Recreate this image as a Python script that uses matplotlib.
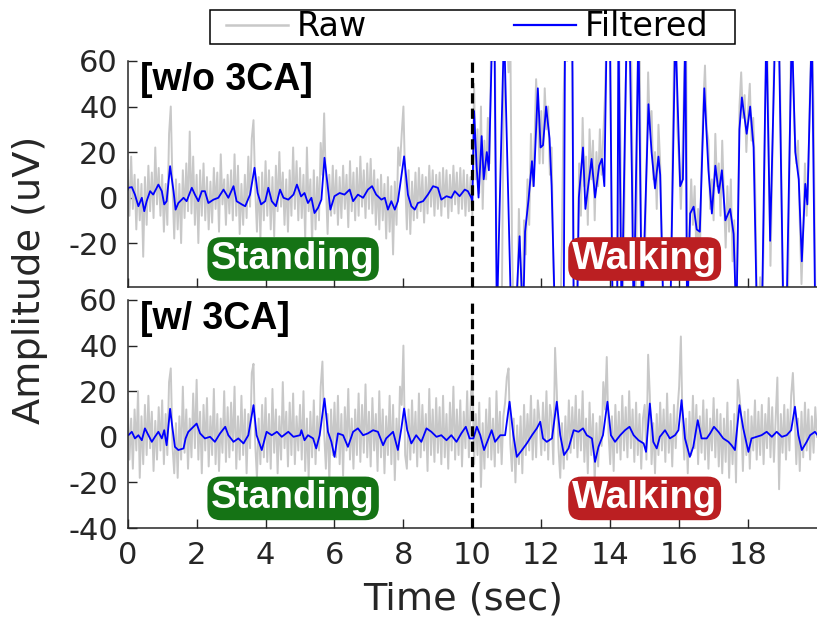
import numpy as np
import matplotlib
matplotlib.use("Agg")
import matplotlib.pyplot as plt
from matplotlib.lines import Line2D
from matplotlib.patches import Rectangle

plt.rcParams['font.family'] = ['DejaVu Sans']
plt.rcParams['axes.unicode_minus'] = False

# ---- data ----
# raw signals, one row per second, 0.05 s apart, 0..20 s
raw_top = [
    12, -8, 18, -5, 10, -14, 8, -10, 6, -26, 9, -12, 14, -6, 11, -9, 22, -3, 13, -8,
    10, -15, 6, -12, 28, 40, 5, -18, 8, -14, 6, -20, 12, -9, 15, -6, 29, -7, 18, -12,
    10, -20, 12, -8, 15, -10, 9, -14, 7, -11, 13, -5, 11, -15, 19, -3, 8, -12, 10, -7,
    12, -10, 19, -8, 14, -16, 6, -12, 10, -9, 18, -4, 26, 34, 4, -15, 9, -18, 11, -10,
    16, -8, 12, -14, 9, -17, 14, -6, 20, -4, 11, -12, 8, -15, 12, -8, 22, -5, 16, -10,
    13, -9, 10, -18, 22, -6, 8, -20, 12, -14, 9, -10, 24, 10, 37, 6, -16, 10, -8, 14,
    -7, 12, -12, 9, -9, 14, -5, 10, -13, 16, -6, 11, -10, 13, -8, 18, -4, 12, -9, 15,
    -5, 17, -7, 12, -12, 8, -14, 10, -10, 6, -18, 9, -15, 5, -25, 7, -12, 22, 14, 28,
    40, 8, -14, 12, -16, 7, -10, 11, -9, 13, -6, 10, -11, 9, -7, 14, -4, 12, -8, 10,
    -5, 11, -8, 13, -4, 12, -9, 10, -6, 14, -3, 11, -7, 13, -5, 12, -8, 10, -6, 9,
    -8, 50, 8, 30, 2, 40, -5, 25, 8, 35, 15, 75, 60, 75, -20, -55, -40, -55, 30, 75,
    75, 55, 75, -20, -55, -40, -55, -5, -30, -55, -10, -25, 8, -12, 28, 5, 22, 52, 35, 15,
    38, 15, 48, 30, 40, 10, 22, -30, -55, -40, -55, -55, -20, 45, 75, 60, 75, 75, 55, -40,
    -55, -30, 15, -8, 35, 5, 18, -12, 30, 8, 25, -10, 20, 5, 30, 10, 28, 45, 75, 65,
    75, -30, -55, -40, -55, 75, 20, -55, -20, 50, 75, 60, 75, 10, -55, -35, 60, 75, -20, -55,
    -30, 10, 55, 30, 38, 8, 20, -5, 32, 15, -20, -55, -40, -55, -45, -55, 10, 60, 75, 30,
    15, -5, 20, 55, 75, -55, -15, 8, -12, 5, -25, -5, -28, 15, 40, 58, 30, 25, -5, 8,
    -10, 28, 5, 15, -8, 25, 0, -22, 5, -15, 8, -28, -10, -55, -20, 40, 55, 35, 45, 20,
    38, 50, 25, 35, 10, -40, -55, -35, -55, -20, 40, 75, 20, -30, 10, 60, 75, 60, 75, 30,
    -40, -55, -45, -55, 10, 75, 55, 30, 15, 25, -10, -38, -15, 15, -8, 12, 50, 75, 40, -40,
    -55,
]
raw_bot = [
    15, -10, 8, -14, 12, -6, 20, -18, 9, -12, 14, -8, 18, -5, 11, -15, 7, -10, 13, -6,
    16, -12, 10, -8, 24, 30, -4, -16, 6, -18, 9, -10, 22, -7, 12, -14, 8, -9, 19, -5,
    25, -10, 11, -16, 14, -6, 17, -13, 9, -8, 21, -12, 10, -15, 8, -7, 20, -11, 13, -9,
    15, -6, 22, -14, 9, -10, 18, -8, 12, -16, 10, -5, 28, 32, -3, -18, 8, -12, 14, -9,
    17, -11, 10, -14, 21, -7, 12, -16, 9, -10, 24, -5, 11, -13, 15, -8, 19, -12, 9, -6,
    14, -10, 20, -15, 8, -18, 11, -9, 16, -12, 9, -6, 22, 33, 2, -14, 10, -20, 12, -8,
    15, -9, 18, -12, 10, -17, 13, -6, 21, -10, 8, -14, 12, -8, 19, -11, 14, -7, 23, -9,
    11, -13, 17, -6, 10, -15, 20, -9, 12, -16, 9, -8, 18, -12, 14, -19, 8, -10, 22, 14,
    40, -8, -14, 12, -10, 16, -7, 11, -13, 19, -9, 14, -6, 10, -15, 21, -8, 12, -11, 17,
    -7, 13, -12, 18, -9, 10, -14, 15, -6, 22, -10, 12, -8, 16, -13, 11, -5, 20, -9, 14,
    32, -12, 10, -8, 15, -22, 6, -14, 12, -9, 17, -10, 8, -13, 20, -7, 11, -12, 9, 15,
    26, 30, -3, -15, 8, -20, 5, -12, 9, -16, 14, -8, 10, -6, 18, -10, 12, -9, 16, 7,
    -8, 15, -6, 20, -10, 14, 9, -12, 39, 20, -5, -18, 6, -14, 9, -10, 16, -7, 13, -5,
    18, -9, 12, -6, 20, -11, 8, -16, 15, -8, 10, -20, 6, -13, 9, -4, 24, 12, 35, 2,
    -12, 9, -15, 14, -7, 11, -10, 18, -6, 13, -9, 20, -5, 12, -11, 15, -8, 10, -14, 8,
    14, -10, 36, 18, -12, 6, -16, 10, -8, 15, -6, 12, -11, 19, -7, 10, -13, 14, -5, 11,
    22, 44, 5, -10, 8, -16, 11, -8, 18, -5, 14, -12, 9, -7, 16, -10, 12, -14, 8, -6,
    17, -9, 12, -13, 10, -16, 8, -11, 15, -18, 7, -12, 10, -20, 25, 18, 9, -15, 11, -8,
    12, -14, 9, -6, 16, -10, 11, -8, 14, -12, 10, -5, 17, -9, 13, -11, 8, 26, -23, 10,
    -7, 14, -10, 12, -6, 18, 28, 10, -12, 8, -15, 11, -9, 15, -6, 12, -10, 9, -7, 13,
    0,
]

# filtered signals (time, value) pairs
filt_top_t = [0.0, 0.02, 0.12, 0.21, 0.31, 0.41, 0.48, 0.55, 0.65, 0.74, 0.89, 0.99, 1.06, 1.13,
              1.23, 1.33, 1.39, 1.47, 1.62, 1.71, 1.86, 1.95, 2.05, 2.15, 2.24, 2.34, 2.49, 2.63,
              2.78, 2.92, 3.07, 3.16, 3.31, 3.41, 3.55, 3.68, 3.77, 3.87, 3.99, 4.08, 4.18, 4.30,
              4.42, 4.52, 4.66, 4.81, 4.91, 5.03, 5.13, 5.23, 5.33, 5.42, 5.52, 5.62, 5.71, 5.81,
              5.88, 6.00, 6.15, 6.29, 6.44, 6.54, 6.68, 6.83, 6.97, 7.09, 7.21, 7.36, 7.46, 7.55,
              7.65, 7.75, 7.84, 8.02, 8.13, 8.23, 8.33, 8.42, 8.57, 8.71, 8.86, 9.00, 9.10, 9.25,
              9.39, 9.49, 9.63, 9.78, 9.87, 9.97, 10.0,
              10.05, 10.12, 10.18, 10.27, 10.33, 10.42, 10.48, 10.58, 10.64, 10.71, 10.92, 11.13,
              11.25, 11.37, 11.47, 11.53, 11.63, 11.73, 11.78, 11.9, 11.98, 12.05, 12.14, 12.24,
              12.3, 12.4, 12.65, 12.69, 12.9, 12.94, 13.04, 13.09, 13.21, 13.28, 13.46, 13.56,
              13.68, 13.76, 13.83, 13.9, 13.99, 14.07, 14.2, 14.24, 14.33, 14.48, 14.56, 14.63,
              14.68, 14.82, 14.92, 15.11, 15.2, 15.3, 15.4, 15.45, 15.55, 15.74, 15.89, 16.03,
              16.11, 16.18, 16.23, 16.32, 16.42, 16.51, 16.6, 16.73, 16.85, 16.95, 17.05, 17.15,
              17.24, 17.34, 17.48, 17.58, 17.66, 17.75, 17.82, 17.96, 18.06, 18.16, 18.26, 18.4,
              18.53, 18.64, 18.79, 18.89, 19.03, 19.12, 19.27, 19.37, 19.47, 19.56, 19.66, 19.72,
              19.85, 19.95, 20.0]
filt_top_v = [3.5, 4.3, 4.6, 1.3, -3.8, -0.1, -6.0, -1.6, 2.8, 1.3, 5.7, 2.8, -3.0, -1.6,
              13.8, 2.8, -5.3, -2.4, -0.1, -1.6, 4.3, 1.3, -1.6, 2.8, 2.8, -2.4, -0.9, -0.1,
              3.5, -0.1, 5.0, -1.6, -3.0, -3.8, 1.3, 13.1, 2.0, -3.0, -1.6, 4.3, -1.6, -3.8,
              3.5, -0.1, -0.9, 1.3, 5.7, 0.5, 2.0, -2.4, -0.1, -6.8, -4.6, -0.9, 17.5, 4.3,
              -5.3, 0.6, 2.0, 1.3, 3.5, -1.6, 1.3, -0.1, 3.5, 5.0, 1.3, -0.9, -0.1, -5.3,
              -1.6, -5.3, -1.6, 18.1, 1.3, -3.8, -5.3, -2.4, -1.6, 1.3, 5.0, 4.3, -0.9, 0.6,
              -0.1, 2.8, 0.6, 3.5, 2.8, -0.1, -2.0,
              38, 15, 0, 27, 8, 20, 12, 75, 75, -55, 75, -55,
              -55, -17, -55, -15, -1, 16, 5, 48, 22, 23, 40, 26,
              5, -55, -55, 75, 75, -55, -55, 0, 22, -5, 17, 0,
              14, 17, 5, 75, 75, -55, -55, 75, -55, 75, 75, 9,
              -55, 75, -55, 41, 20, 4, 18, 10, -55, -55, 75, 5,
              8, 75, -55, -7, -4, -14, -15, 48, 12, -7, 14, 2,
              12, -10, -5, -16, -55, 30, 44, 28, 40, 22, -55, -55,
              75, -19, 75, 75, -55, -48, 75, 20, 8, -28, 6, -3,
              75, -55, -40]

filt_bot_t = [0.0, 0.02, 0.12, 0.21, 0.31, 0.41, 0.50, 0.60, 0.70, 0.79, 0.89, 0.99, 1.06, 1.13,
              1.23, 1.30, 1.37, 1.47, 1.62, 1.68, 1.76, 1.86, 2.00, 2.10, 2.24, 2.39, 2.53, 2.68,
              2.83, 2.92, 3.07, 3.21, 3.36, 3.50, 3.65, 3.74, 3.89, 4.03, 4.18, 4.33, 4.47, 4.66,
              4.81, 5.00, 5.04, 5.13, 5.23, 5.38, 5.47, 5.57, 5.71, 5.81, 5.91, 6.00, 6.10, 6.25,
              6.39, 6.54, 6.68, 6.83, 6.97, 7.12, 7.26, 7.41, 7.50, 7.70, 7.84, 7.94, 8.02, 8.11,
              8.23, 8.37, 8.52, 8.67, 8.81, 8.96, 9.10, 9.25, 9.39, 9.54, 9.68, 9.81, 9.92, 10.03,
              10.13, 10.23, 10.34, 10.47, 10.56, 10.66, 10.81, 10.95, 11.08, 11.19, 11.29, 11.44,
              11.58, 11.73, 11.87, 11.97, 12.05, 12.16, 12.31, 12.45, 12.55, 12.66, 12.79, 12.94,
              13.08, 13.21, 13.32, 13.47, 13.56, 13.66, 13.79, 13.92, 14.02, 14.14, 14.29, 14.43,
              14.56, 14.68, 14.82, 14.97, 15.04, 15.15, 15.25, 15.35, 15.44, 15.59, 15.73, 15.88,
              15.98, 16.07, 16.17, 16.31, 16.41, 16.54, 16.65, 16.80, 16.90, 17.01, 17.14, 17.28,
              17.43, 17.52, 17.62, 17.75, 17.86, 18.01, 18.10, 18.25, 18.39, 18.54, 18.69, 18.83,
              18.98, 19.12, 19.25, 19.36, 19.46, 19.56, 19.70, 19.80, 19.94, 20.0]
filt_bot_v = [0.7, 0.7, 2.2, -0.7, 0.7, -1.5, 3.7, 0.7, -2.2, 0.0, 2.2, -0.7, 2.9, -3.7,
              12.3, 3.7, -4.4, -5.8, -5.1, -0.7, 2.2, 3.7, 5.8, 1.5, -0.7, 0.0, -2.2, 1.5,
              4.4, 0.7, -2.2, -0.7, -2.9, 0.7, 13.9, 0.7, -5.8, 2.2, 0.7, 2.2, 0.0, 2.2,
              0.0, 0.7, 2.9, -1.5, 0.7, -0.7, -5.1, 0.7, 16.8, 2.2, -2.2, -8.8, 1.5, 0.7,
              -4.4, 2.2, 3.7, 0.7, 1.5, 2.9, 2.2, -3.7, -0.7, 2.2, -5.8, 3.7, 12.4, 2.9,
              -2.9, 0.7, -2.2, 3.7, 2.2, 0.0, 0.7, -1.5, 0.7, -2.2, 1.5, 4.4, -0.7, -0.7,
              4.4, 0.7, -5.8, -0.7, 2.9, -2.2, 0.7, 0.7, 15.4, 0.7, -8.8, -5.8,
              -2.9, 0.7, 3.7, 6.6, -0.7, -2.2, -0.7, 15.4, 0.7, -8.0, -5.1, 2.9,
              2.2, 3.7, 0.7, -0.7, -11.0, -4.4, 0.7, 15.4, 0.7, -2.2, 0.7, 2.9,
              4.4, 0.7, -1.5, -2.9, -6.6, 14.6, -2.2, -5.1, 0.0, 2.9, -0.7, 0.7,
              2.9, 16.1, -0.7, -8.8, -4.4, 7.3, -0.7, -0.7, 1.5, 4.4, 2.2, -0.7,
              -2.2, -3.7, -5.8, 13.9, 3.7, -6.6, -0.7, 0.0, 0.7, 2.2, 0.0, 2.2,
              0.0, 0.7, 2.9, 13.2, 0.7, -5.8, -2.2, 0.7, 2.2, 1.0]

panel_titles = ["[w/o 3CA]", "[w/ 3CA]"]
state_labels = ["Standing", "Walking"]
state_centers = [4.8, 15.0]
onset = 10

# ---- figure ----
fig = plt.figure(figsize=(8.17, 6.26), dpi=100)
ax1 = fig.add_axes([0.1563, 0.5415, 0.8437, 0.3611])
ax2 = fig.add_axes([0.1563, 0.1565, 0.8437, 0.3643])

gray = '#c8c8c8'
axcol = '#262626'

panels = [
    (ax1, raw_top, filt_top_t, filt_top_v, (-39.3, 60)),
    (ax2, raw_bot, filt_bot_t, filt_bot_v, (-40, 60)),
]

for i, (ax, raw, ft, fv, ylim) in enumerate(panels):
    t_raw = np.linspace(0, 20, len(raw))
    ax.plot(t_raw, raw, color=gray, lw=1.4)
    ax.plot(ft, fv, color='#0000ff', lw=1.3)
    ax.axvline(onset, color='k', lw=2.3, linestyle=(0, (3.2, 1.6)), zorder=5)

    ax.set_xlim(0, 20)
    ax.set_ylim(*ylim)
    ax.set_xticks(range(0, 20, 2))
    ax.set_yticks([-40, -20, 0, 20, 40, 60] if i == 1 else [-20, 0, 20, 40, 60])
    for s in ['top', 'right']:
        ax.spines[s].set_visible(False)
    for s in ['left', 'bottom']:
        ax.spines[s].set_color(axcol)
        ax.spines[s].set_linewidth(1.1)
    ax.tick_params(direction='in', length=6.5, width=1.0, color=axcol,
                   labelcolor=axcol, labelsize=22)
    ax.tick_params(axis='y', pad=7)
    ax.tick_params(axis='x', pad=9)

    ax.text(0.018, 0.995, panel_titles[i], transform=ax.transAxes, ha='left', va='top',
            fontsize=27, fontweight='bold', family='Liberation Sans', color='k')

    # activity labels
    box_cols = ['#157315', '#bb1f22']
    for lab, xc, bc in zip(state_labels, state_centers, box_cols):
        ax.text(xc, -27.0, lab, ha='center', va='center', fontsize=27.5, fontweight='bold',
                family='Liberation Sans', color='white', zorder=6,
                bbox=dict(boxstyle='round,pad=0.1,rounding_size=0.35', fc=bc, ec='none'))

ax1.tick_params(axis='x', labelbottom=False)
ax2.set_xlabel('Time (sec)', fontsize=27.5, color=axcol)
ax2.xaxis.set_label_coords(0.486, -0.235)
fig.text(0.037, 0.553, 'Amplitude (uV)', rotation=90, ha='center', va='center',
         fontsize=27.5, color=axcol)

# legend across the top, frame drawn separately
handles = [Line2D([], [], color=gray, lw=1.8), Line2D([], [], color='#0000ff', lw=1.6)]
leg = fig.legend(handles, ['Raw', 'Filtered'], ncol=2, loc='center left',
                 bbox_to_anchor=(226 / 817, 1 - 27 / 626), frameon=False, fontsize=24,
                 borderpad=0, borderaxespad=0, handlelength=1.86, handletextpad=0.27,
                 columnspacing=4.4)
for txt in leg.get_texts():
    txt.set_color('k')
fig.patches.append(Rectangle((210 / 817, 1 - 44 / 626), 525 / 817, 34 / 626,
                             transform=fig.transFigure, fill=False, ec='k', lw=1.1))

fig.savefig('out.png', dpi=100)
